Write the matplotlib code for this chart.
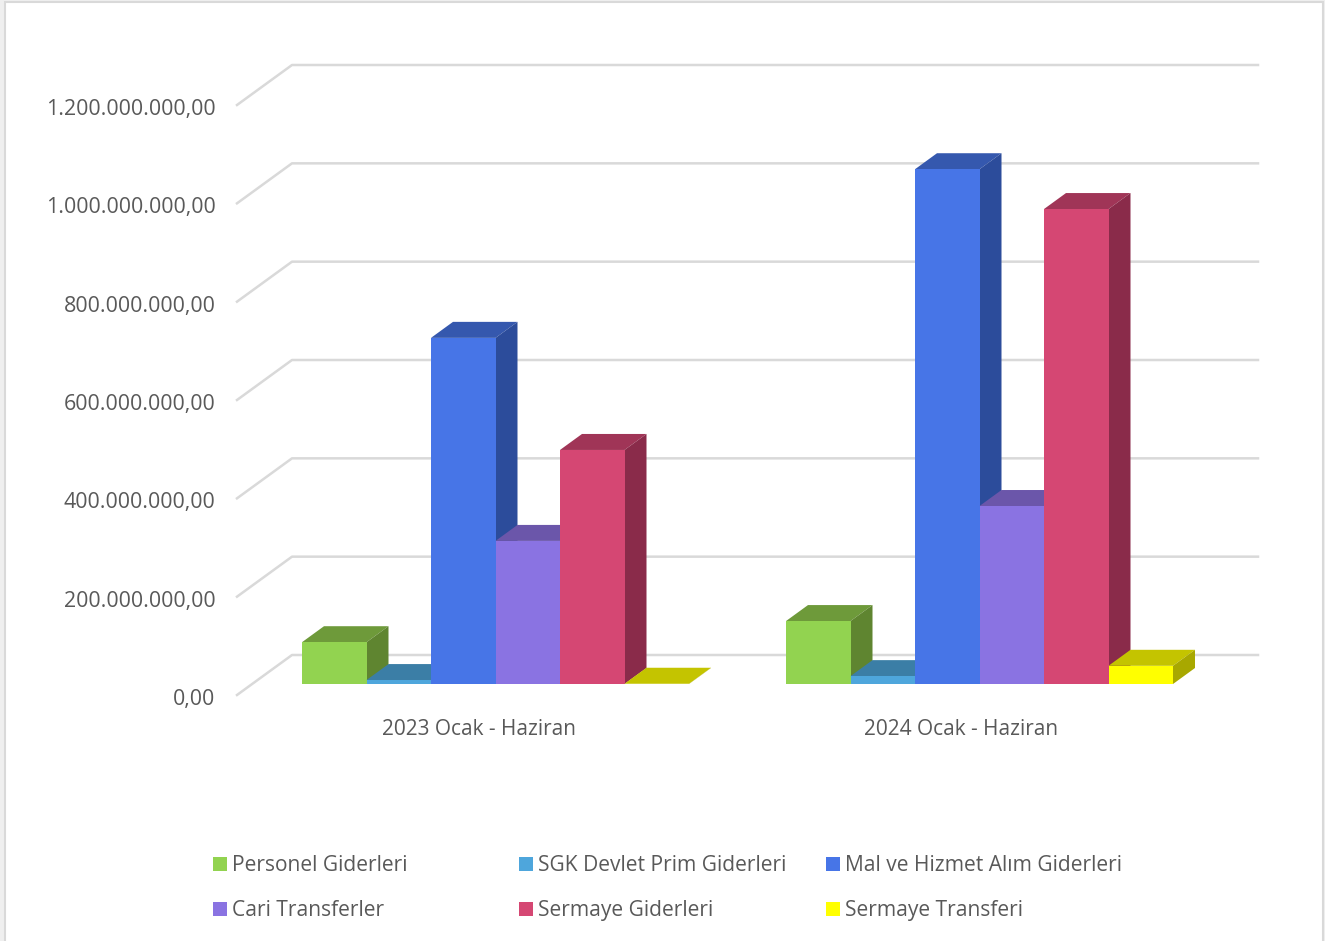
import matplotlib
matplotlib.use("Agg")
import matplotlib.pyplot as plt
from matplotlib.patches import Polygon, Rectangle
from matplotlib.transforms import ScaledTranslation

# data
periods = ["2023 Ocak - Haziran", "2024 Ocak - Haziran"]
series_names = ["Personel Giderleri", "SGK Devlet Prim Giderleri", "Mal ve Hizmet Alım Giderleri",
                "Cari Transferler", "Sermaye Giderleri", "Sermaye Transferi"]
values_2023 = [85e6, 8e6, 704e6, 291e6, 476e6, 0.5e6]
values_2024 = [128e6, 16e6, 1047e6, 362e6, 966e6, 37e6]
y_ticks = [0, 200e6, 400e6, 600e6, 800e6, 1000e6, 1200e6]
y_labels = ["0,00", "200.000.000,00", "400.000.000,00", "600.000.000,00",
            "800.000.000,00", "1.000.000.000,00", "1.200.000.000,00"]

# front, top, side colour of each series
front_colors = ["#92D350", "#4EA6DC", "#4775E7", "#8A73E2", "#D54773", "#FFFF00"]
top_colors = ["#6E9A3A", "#3B7EA6", "#3558AE", "#6B56AA", "#A03557", "#C4C400"]
side_colors = ["#5F8530", "#316C8F", "#2C4C9B", "#5C4A93", "#8A2B4A", "#A8A800"]

W, H = 1325, 941
TEXT = "#595959"
GRID = "#D9D9D9"
FS = 15.1
plt.rcParams["font.family"] = ["Open Sans", "DejaVu Sans"]

fig = plt.figure(figsize=(W / 100, H / 100), dpi=100, facecolor="#EFEFEF")

# white card with thin border
fig.add_artist(Rectangle((5 / W, -0.01), 1318 / W, 1 - 2 / H + 0.01, transform=fig.transFigure,
                         facecolor="white", edgecolor=GRID, linewidth=1.5, zorder=-1))

ax = fig.add_axes([237 / W, 1 - 695 / H, (1258 - 237) / W, (695 - 55) / H])
ax.patch.set_alpha(0)
px_x = 1 / 483
px_y = 1200e6 / 590
ax.set_xlim(-0.5, -0.5 + 1021 * px_x)
ax.set_ylim(0, 640 * px_y)
for s in ax.spines.values():
    s.set_visible(False)

# floor and back wall grid
wall_dx = 55 * px_x
wall_dy = 40 * px_y
x_left, x_right = ax.get_xlim()
for t in y_ticks:
    ax.plot([x_left, x_left + wall_dx, x_right], [t, t + wall_dy, t + wall_dy],
            color=GRID, linewidth=1.8, clip_on=False, zorder=1)

# 3d bars
bar_w = 64.5 * px_x
depth_x = 22 * px_x
depth_y = 16 * px_y
base = 11 * px_y
shifts = [17 * px_x, 18 * px_x]

z = 2
for g, vals in enumerate([values_2023, values_2024]):
    for i, v in enumerate(vals):
        x0 = g + shifts[g] + (i - 3) * bar_w
        x1 = x0 + bar_w
        top = base + v
        ax.add_patch(Polygon([(x0, top), (x0 + depth_x, top + depth_y), (x1 + depth_x, top + depth_y), (x1, top)],
                             facecolor=top_colors[i], edgecolor="none", zorder=z))
        ax.add_patch(Polygon([(x1, base), (x1 + depth_x, base + depth_y), (x1 + depth_x, top + depth_y), (x1, top)],
                             facecolor=side_colors[i], edgecolor="none", zorder=z))
        ax.bar(x0, v, width=bar_w, bottom=base, align="edge", color=front_colors[i], zorder=z + 1)
        z += 2

ax.set_yticks(y_ticks)
ax.set_yticklabels(y_labels)
ax.set_xticks(range(len(periods)))
ax.set_xticklabels(periods)
ax.tick_params(axis="y", length=0, pad=15.5, labelsize=15.4, labelcolor=TEXT)
ax.tick_params(axis="x", length=0, pad=17.3, labelsize=15, labelcolor=TEXT)

# y labels sit a little under the grid ends
nudge = ScaledTranslation(0, -2 / 100, fig.dpi_scale_trans)
for label in ax.get_yticklabels():
    label.set_transform(label.get_transform() + nudge)

# legend, two rows of three
legend_x = [213, 519, 826]
legend_y = [864, 909]
for i, name in enumerate(series_names):
    lx = legend_x[i % 3]
    ly = legend_y[i // 3]
    fig.add_artist(Rectangle((lx / W, 1 - (ly + 7) / H), 14 / W, 14 / H, transform=fig.transFigure,
                             facecolor=front_colors[i], edgecolor="none"))
    fig.text((lx + 19) / W, 1 - (ly + 7) / H, name, color=TEXT, fontsize=FS, va="baseline", ha="left")

fig.savefig("out.png", dpi=100, facecolor=fig.get_facecolor())
